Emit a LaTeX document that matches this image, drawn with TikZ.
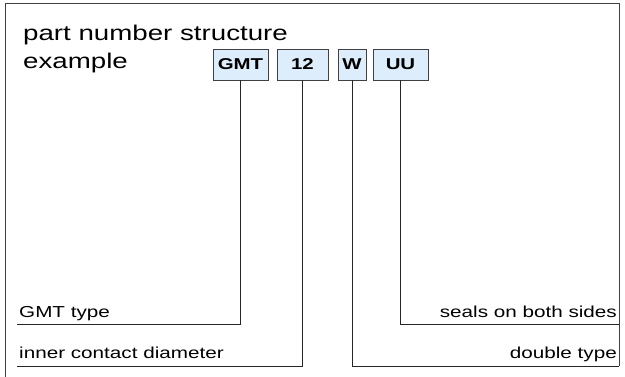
\documentclass[tikz,border=0pt]{standalone}
\usepackage{fontspec}
\setmainfont{Liberation Sans}[FakeStretch=1.3]
\definecolor{boxfill}{HTML}{DDEDFB}
\definecolor{linegray}{HTML}{404040}
\begin{document}
\begin{tikzpicture}[x=1pt,y=-1pt,
  frame/.style={draw=linegray,line width=0.8pt},
  part/.style={draw=linegray,line width=0.8pt,fill=boxfill,minimum height=31pt,inner sep=0pt,font=\fontsize{15.7}{18}\selectfont\bfseries},
  conn/.style={draw=black!85,line width=0.8pt},
  title/.style={anchor=base west,inner sep=0pt,font=\fontsize{21.3}{25}\selectfont},
  lbl/.style={inner sep=0pt,font=\fontsize{15.9}{18}\selectfont}]
\useasboundingbox (0,0) rectangle (625,376);
\draw[frame] (5,377) -- (5,3) -- (619,3) -- (619,366);
\node[title] (t1) at (23,40) {part number structure};
\node[title] (t2) at (23,68) {example};
\node[part,minimum width=55pt] (gmt) at (240.5,64.5) {GMT};
\node[part,minimum width=51pt] (n12) at (302.5,64.5) {12};
\node[part,minimum width=28pt] (w) at (352,64.5) {W};
\node[part,minimum width=55pt] (uu) at (400.5,64.5) {UU};
\node[lbl,anchor=base west] (l1) at (19,317) {GMT type};
\node[lbl,anchor=base west] (l2) at (19,358) {inner contact diameter};
\node[lbl,anchor=base east] (l3) at (617,317) {seals on both sides};
\node[lbl,anchor=base east] (l4) at (617,358) {double type};
\coordinate (u1) at (17,324);
\coordinate (u2) at (17,366);
\coordinate (u3) at (619,324);
\coordinate (u4) at (619,366);
\draw[conn] (gmt.south) |- (u1);
\draw[conn] (n12.south) |- (u2);
\draw[conn] (uu.south) |- (u3);
\draw[conn] (w.south) |- (u4);
\end{tikzpicture}
\end{document}
